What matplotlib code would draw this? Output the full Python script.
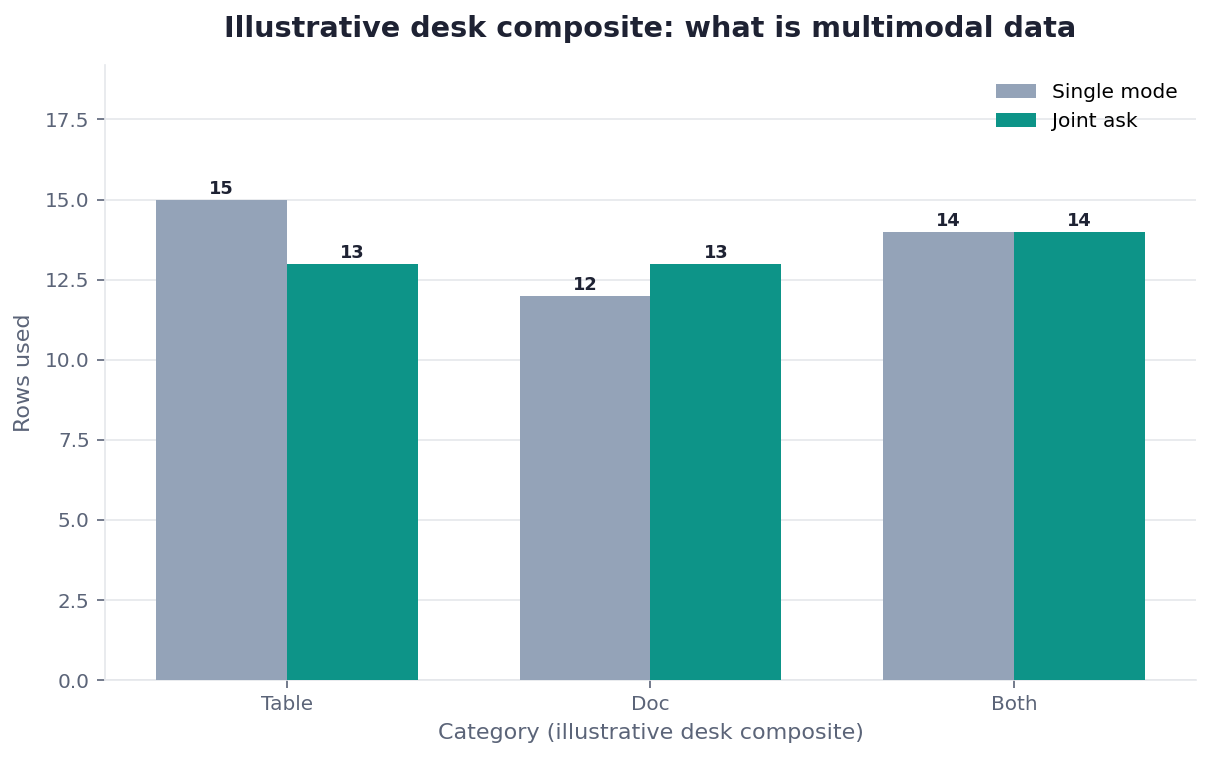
import matplotlib

matplotlib.use("Agg")
import matplotlib.pyplot as plt
import numpy as np

categories = ["Table", "Doc", "Both"]
single_mode = [15, 12, 14]
joint_ask = [13, 13, 14]

SLATE = "#94a3b8"
TEAL = "#0d9488"
INK = "#1e2233"
MUTED = "#5b6478"
GRID = "#e5e7eb"

fig = plt.figure(figsize=(12.12, 7.6), dpi=100)
ax = fig.add_axes([0.0866, 0.105, 0.9002, 0.8095])

x = np.arange(len(categories))
w = 0.36
b1 = ax.bar(x - w / 2, single_mode, w, color=SLATE, label="Single mode", zorder=3)
b2 = ax.bar(x + w / 2, joint_ask, w, color=TEAL, label="Joint ask", zorder=3)
for bars in (b1, b2):
    ax.bar_label(bars, fmt="%d", fontsize=12.8, fontweight="bold", color=INK, padding=1)

ax.set_xlim(-0.5, 2.5)
ax.set_ylim(0, max(single_mode + joint_ask) * 1.28)
ax.set_xticks(x)
ax.set_xticklabels(categories)
ax.tick_params(axis="both", labelsize=14.4, colors=MUTED, length=6, width=1.2, pad=5)
ax.grid(axis="y", color=GRID, linewidth=1.2, zorder=0)
ax.set_axisbelow(True)
for side in ("top", "right"):
    ax.spines[side].set_visible(False)
for side in ("left", "bottom"):
    ax.spines[side].set_color(GRID)
    ax.spines[side].set_linewidth(1.2)

ax.set_xlabel("Category (illustrative desk composite)", fontsize=16, color=MUTED, labelpad=6)
ax.set_ylabel("Rows used", fontsize=16, color=MUTED, labelpad=8)
ax.set_title("Illustrative desk composite: what is multimodal data",
             fontsize=20.6, fontweight="bold", color=INK, pad=20)
ax.legend(loc="upper right", frameon=False, fontsize=14.5)

fig.savefig("out.png", dpi=100)
plt.close(fig)
